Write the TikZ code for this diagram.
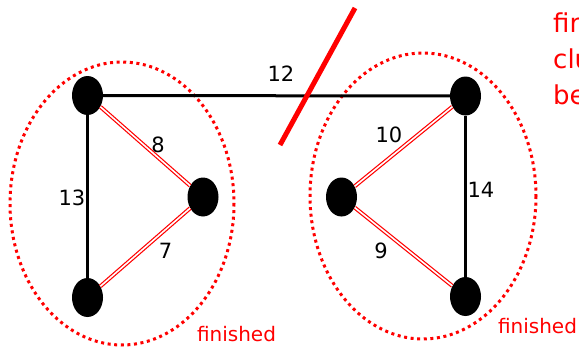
\documentclass[tikz,border=0pt]{standalone}
\usepackage{fontspec}
\setmainfont{DejaVu Sans}
\usetikzlibrary{shapes.geometric}
\definecolor{pred}{RGB}{255,0,0}
\begin{document}
\begin{tikzpicture}[x=1pt,y=-1pt,
  vtx/.style={ellipse,fill=black,draw=none,minimum width=31pt,minimum height=39pt,inner sep=0pt},
  blk/.style={draw=black,line width=3pt},
  mst/.style={draw=pred,line width=1.2pt,double=white,double distance=1.6pt},
  clus/.style={draw=pred,line width=3pt,dash pattern=on 3pt off 3.6pt},
  wlab/.style={font=\fontsize{21pt}{24pt}\selectfont,text=black,inner sep=0pt},
  fin/.style={font=\fontsize{20pt}{24pt}\selectfont,text=pred,inner sep=0pt},
  note/.style={font=\fontsize{26pt}{30pt}\selectfont,text=pred,inner sep=0pt,anchor=base west}]
\useasboundingbox (0,0) rectangle (579,348);
\clip (0,0) rectangle (579,348);
% clusters
\draw[clus] (122,203.5) ellipse [x radius=112, y radius=141.5];
\draw[clus] (423,196) ellipse [x radius=113, y radius=143];
% vertices
\node[vtx] (a) at (87.5,95.5) {};
\node[vtx] (b) at (203,197) {};
\node[vtx] (c) at (87.5,297.5) {};
\node[vtx] (d) at (465.5,96) {};
\node[vtx] (e) at (341.5,197) {};
\node[vtx] (f) at (465.5,296.5) {};
% edges
\draw[blk] (a) -- (d);
\draw[blk] (a) -- (c);
\draw[blk] (d) -- (f);
\draw[mst] (a) -- (b);
\draw[mst] (b) -- (c);
\draw[mst] (d) -- (e);
\draw[mst] (e) -- (f);
% cut mark
\coordinate (s1) at (355,8);
\coordinate (s2) at (280,145);
\draw[draw=pred,line width=5pt] (s1) -- (s2);
% weights
\node[wlab] (w12) at (281,73.5) {12};
\node[wlab] (w8) at (158,144.5) {8};
\node[wlab] (w13) at (72,197.5) {13};
\node[wlab] (w7) at (165.5,251) {7};
\node[wlab] (w10) at (389,135) {10};
\node[wlab] (w14) at (481,190) {14};
\node[wlab] (w9) at (381,251) {9};
% labels
\node[fin] (f1) at (236.5,334) {finished};
\node[fin] (f2) at (537.5,326) {finished};
\node[note] (n1) at (553,32) {fir};
\node[note] (n2) at (553,68) {clu};
\node[note] (n3) at (553,104) {be};
\end{tikzpicture}
\end{document}
